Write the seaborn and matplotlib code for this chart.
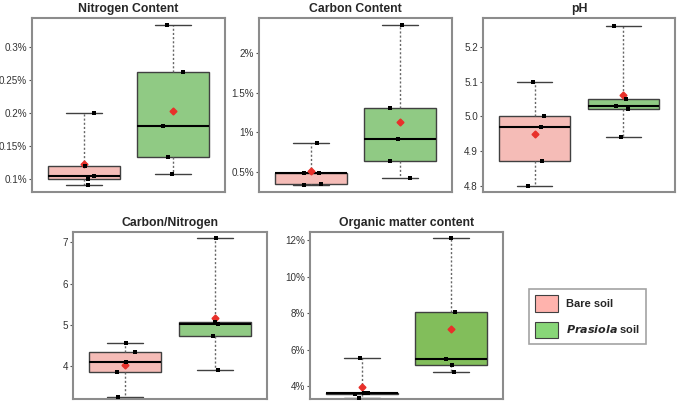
import numpy as np
import pandas as pd
import matplotlib.pyplot as plt
import seaborn as sns
from matplotlib.patches import Patch

# Dados (5 amostras por grupo)
grupos = ['Bare soil', 'Prasiola soil']

nitro_bare = [0.200, 0.120, 0.105, 0.100, 0.091]
nitro_pras = [0.333, 0.261, 0.180, 0.133, 0.108]

carb_bare = [0.87, 0.49, 0.48, 0.35, 0.33]
carb_pras = [2.36, 1.31, 0.91, 0.63, 0.42]

ph_bare = [5.10, 5.00, 4.97, 4.87, 4.80]
ph_pras = [5.26, 5.05, 5.03, 5.02, 4.94]

cn_bare = [4.56, 4.35, 4.09, 3.86, 3.24]
cn_pras = [7.10, 5.07, 5.02, 4.73, 3.90]

om_bare = [5.57, 3.64, 3.61, 3.58, 3.37]
om_pras = [12.10, 8.07, 5.49, 5.15, 4.80]

# Ticks de cada painel
nitro_ticks = [0.1, 0.15, 0.2, 0.25, 0.3]
nitro_labels = ['0.1%', '0.15%', '0.2%', '0.25%', '0.3%']
carb_ticks = [0.5, 1, 1.5, 2]
carb_labels = ['0.5%', '1%', '1.5%', '2%']
ph_ticks = [4.8, 4.9, 5.0, 5.1, 5.2]
ph_labels = ['4.8', '4.9', '5.0', '5.1', '5.2']
cn_ticks = [4, 5, 6, 7]
cn_labels = ['4', '5', '6', '7']
om_ticks = [4, 6, 8, 10, 12]
om_labels = ['4%', '6%', '8%', '10%', '12%']

rosa = '#FFB3AD'
verde = '#88D678'
verde_om = '#7ECE4A'

sns.set_style('white')
plt.rcParams['font.family'] = ['Liberation Sans', 'DejaVu Sans']

W, H = 677, 405
fig = plt.figure(figsize=(W / 100, H / 100), dpi=100)


def eixo(l, t, r, b):
    return fig.add_axes([l / W, 1 - b / H, (r - l) / W, (b - t) / H])


def painel(ax, bare, pras, titulo, ticks, labels, ylim, cor_verde=verde):
    df = pd.DataFrame({'solo': [grupos[0]] * len(bare) + [grupos[1]] * len(pras),
                       'valor': bare + pras})
    sns.boxplot(data=df, x='solo', y='valor', hue='solo', order=grupos,
                palette=[rosa, cor_verde], width=0.8, whis=(0, 100),
                showfliers=False, showmeans=True, linewidth=1.0,
                boxprops=dict(edgecolor='#404040'),
                whiskerprops=dict(color='#666666', linestyle=(0, (1.5, 1.5))),
                capprops=dict(color='#404040'),
                medianprops=dict(color='black', linewidth=1.5),
                meanprops=dict(marker='D', markerfacecolor='#E8302A',
                               markeredgecolor='#E8302A', markersize=3.5),
                legend=False, ax=ax)
    sns.stripplot(data=df, x='solo', y='valor', order=grupos, color='black',
                  marker='s', size=3, jitter=0.12, ax=ax, zorder=3)
    ax.set_xlim(-0.58, 1.58)
    ax.set_ylim(*ylim)
    ax.set_yticks(ticks)
    ax.set_yticklabels(labels, fontsize=7.1, color='#333333')
    ax.set_xticks([])
    ax.set_xlabel('')
    ax.set_ylabel('')
    ax.tick_params(axis='y', left=True, length=2.5, width=0.8, color='#555555', pad=1.2)
    for s in ax.spines.values():
        s.set_color('#8c8c8c')
        s.set_linewidth(1.5)
    ax.set_title(titulo, fontsize=8.8, fontweight='bold', pad=4)


np.random.seed(4)
painel(eixo(32, 18, 225, 192), nitro_bare, nitro_pras, 'Nitrogen Content',
       nitro_ticks, nitro_labels, (0.081, 0.343))
painel(eixo(259, 18, 452, 192), carb_bare, carb_pras, 'Carbon Content',
       carb_ticks, carb_labels, (0.243, 2.45))
painel(eixo(483, 18, 675, 192), ph_bare, ph_pras, 'pH',
       ph_ticks, ph_labels, (4.782, 5.283))
painel(eixo(73, 232, 267, 399), cn_bare, cn_pras, 'Carbon/Nitrogen',
       cn_ticks, cn_labels, (3.2, 7.25))
painel(eixo(310, 232, 503, 399), om_bare, om_pras, 'Organic matter content',
       om_ticks, om_labels, (3.3, 12.44), cor_verde=verde_om)

# Legenda
alcas = [Patch(facecolor=rosa, edgecolor='#404040', linewidth=0.8),
         Patch(facecolor=verde, edgecolor='#404040', linewidth=0.8)]
leg = fig.legend(alcas, ['Bare soil', r'$\mathbfit{Prasiola}$ soil'],
                 loc='upper left', bbox_to_anchor=(529 / W, 1 - 289 / H),
                 prop={'weight': 'bold', 'size': 8}, fancybox=False,
                 edgecolor='#8c8c8c', handlelength=2.1, handleheight=1.9,
                 labelspacing=0.9, borderpad=0.55, handletextpad=0.7,
                 borderaxespad=0)
leg.get_frame().set_linewidth(1.2)

plt.savefig('out.png', dpi=100)
